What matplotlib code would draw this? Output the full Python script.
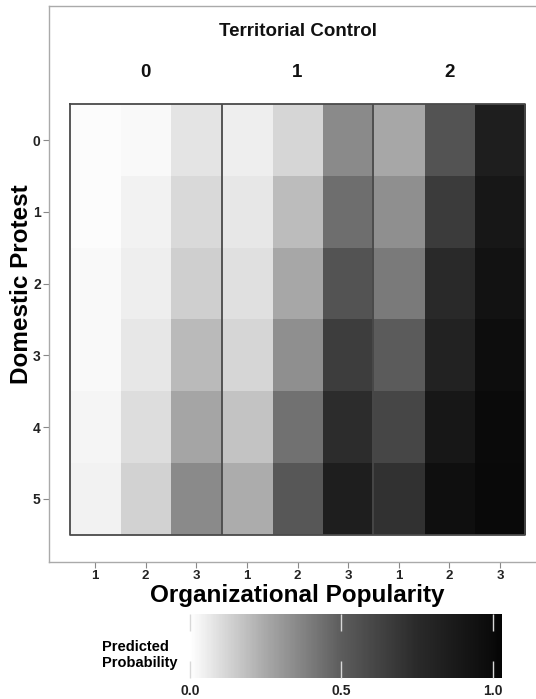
# plot.py
# Predicted probability heatmap: domestic protest vs organizational popularity,
# grouped by territorial control, in greyscale.

import numpy as np
import matplotlib
matplotlib.use('Agg')
import matplotlib.pyplot as plt
from matplotlib.colors import LinearSegmentedColormap, Normalize

plt.rcParams['font.family'] = ['Liberation Sans', 'DejaVu Sans']

# ── DATA ─────────────────────────────────────────────
territorial = ['0', '1', '2']
popularity = ['1', '2', '3']
protest = ['0', '1', '2', '3', '4', '5']

# rows = domestic protest 0..5, cols = popularity 1..3
prob_tc0 = [
    [0.01, 0.02, 0.08],
    [0.01, 0.04, 0.11],
    [0.02, 0.05, 0.14],
    [0.02, 0.07, 0.20],
    [0.03, 0.10, 0.26],
    [0.04, 0.13, 0.35],
]
prob_tc1 = [
    [0.05, 0.12, 0.35],
    [0.07, 0.19, 0.44],
    [0.09, 0.25, 0.54],
    [0.12, 0.33, 0.65],
    [0.17, 0.43, 0.74],
    [0.24, 0.52, 0.84],
]
prob_tc2 = [
    [0.25, 0.54, 0.84],
    [0.33, 0.66, 0.89],
    [0.40, 0.75, 0.93],
    [0.50, 0.81, 0.97],
    [0.61, 0.89, 0.99],
    [0.71, 0.95, 1.00],
]

cbar_ticks = [0.0, 0.5, 1.0]
cbar_max = 1.03

# ── COLOUR SCALE (white → black, darkening quickly) ──
grey_stops = [(0.0, 255), (0.25, 168), (0.5, 92), (0.75, 42), (1.0, 10), (cbar_max, 4)]
cmap = LinearSegmentedColormap.from_list(
    'greys_pp', [(p / cbar_max, (g / 255,) * 3) for p, g in grey_stops])
norm = Normalize(vmin=0.0, vmax=cbar_max)

matrix = np.hstack([np.array(prob_tc0), np.array(prob_tc1), np.array(prob_tc2)])
n_rows, n_cols = matrix.shape

W, H = 536, 699
fig = plt.figure(figsize=(W / 100, H / 100), dpi=100)
fig.patch.set_facecolor('white')

# main panel (extends slightly past right edge like the original)
ax = fig.add_axes([49 / W, 1 - 562 / H, (546 - 49) / W, (562 - 6) / H])
ax.set_facecolor('white')

im = ax.imshow(matrix, cmap=cmap, norm=norm, aspect='auto',
               interpolation='nearest',
               extent=(-0.5, n_cols - 0.5, n_rows - 0.5, -0.5))

# heatmap border + group dividers
ax.plot([-0.5, n_cols - 0.5, n_cols - 0.5, -0.5, -0.5],
        [-0.5, -0.5, n_rows - 0.5, n_rows - 0.5, -0.5],
        color='#4a4a4a', linewidth=1.3)
ax.vlines([2.5, 5.5], -0.5, n_rows - 0.5, color='#4a4a4a', linewidth=1.3)

ax.set_xlim(-0.91, 8.91)
ax.set_ylim(5.88, -1.87)

ax.set_xticks(range(n_cols))
ax.set_xticklabels(popularity * len(territorial), fontsize=9.5,
                   fontweight='bold', color='#222222')
ax.set_yticks(range(n_rows))
ax.set_yticklabels(protest, fontsize=10, fontweight='bold', color='#222222')
ax.tick_params(length=4, width=0.8, color='#888888', pad=2)

for spine in ax.spines.values():
    spine.set_color('#aaaaaa')
    spine.set_linewidth(1.0)

# header labels
ax.text(4, -1.448, 'Territorial Control', ha='center', va='baseline',
        fontsize=13.5, fontweight='bold', color='#111111')
for i, lab in enumerate(territorial):
    ax.text(3 * i + 1, -0.877, lab, ha='center', va='baseline',
            fontsize=13.5, fontweight='bold', color='#111111')

fig.text(22 / W, 1 - 284 / H, 'Domestic Protest', rotation=90,
         ha='center', va='center', fontsize=17.5, fontweight='bold')
fig.text(297 / W, 1 - 602 / H, 'Organizational Popularity',
         ha='center', va='baseline', fontsize=17.5, fontweight='bold')

# colour bar
cax = fig.add_axes([190 / W, 1 - 678 / H, (502 - 190) / W, (678 - 614) / H])
cbar = fig.colorbar(im, cax=cax, orientation='horizontal', ticks=cbar_ticks)
cbar.outline.set_visible(False)
cbar.ax.set_xticklabels([f'{t:.1f}' for t in cbar_ticks], fontsize=10,
                        fontweight='bold', color='#222222')
cbar.ax.xaxis.set_ticks_position('both')
cbar.ax.tick_params(direction='in', length=12, width=1, color='#d8d8d8',
                    pad=4, labeltop=False, labelbottom=True)

fig.text(102 / W, 1 - 655 / H, 'Predicted\nProbability', ha='left',
         va='center', fontsize=10.5, fontweight='bold', linespacing=1.15)

fig.savefig('out.png', dpi=100, facecolor=fig.get_facecolor())
